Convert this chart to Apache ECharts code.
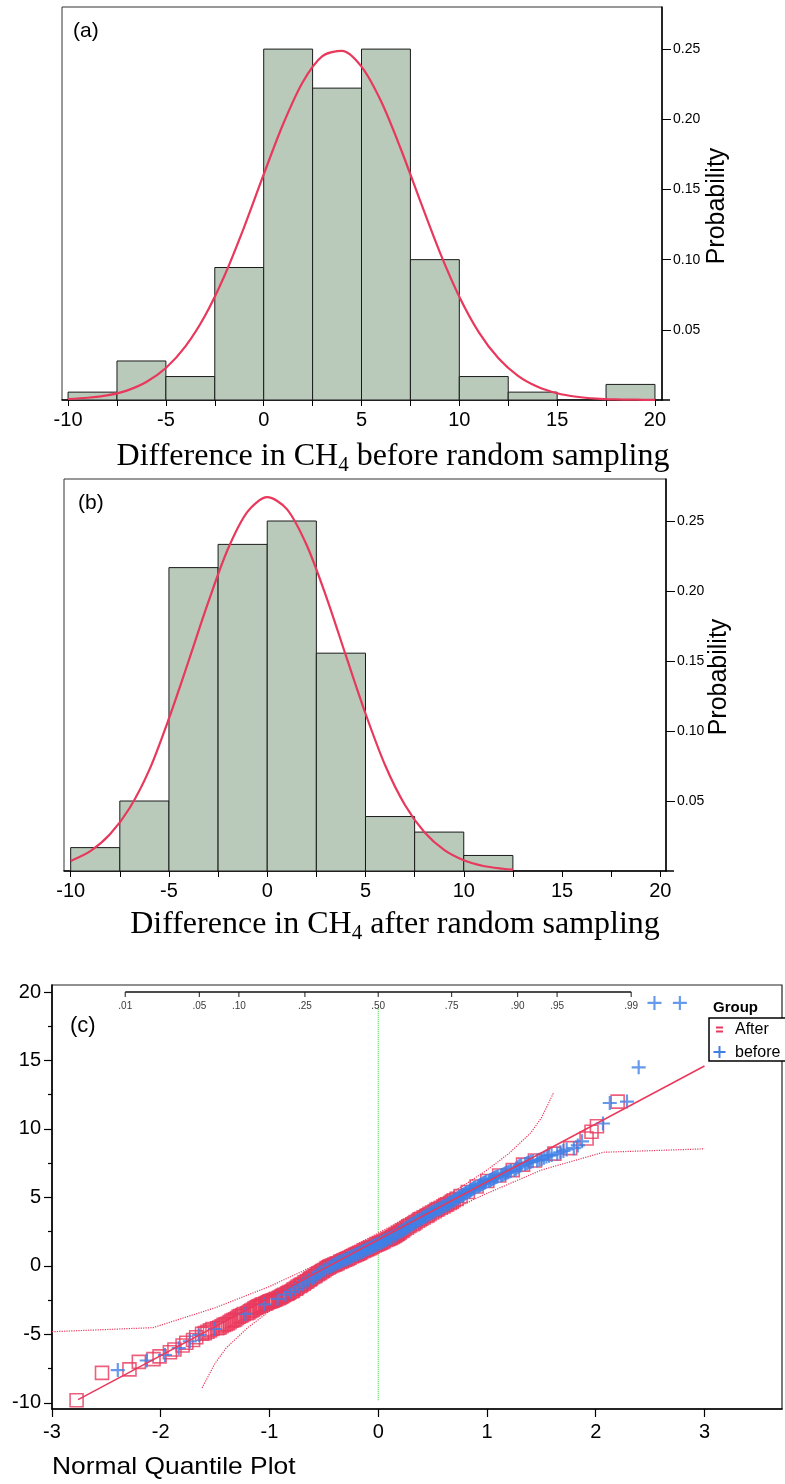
<!DOCTYPE html>
<html><head><meta charset="utf-8">
<script src="https://cdn.jsdelivr.net/npm/echarts@6/dist/echarts.min.js"></script>
<style>html,body{margin:0;padding:0;background:#fff}#c{width:785px;height:1484px}</style>
</head><body><div id="c"></div>
<script>
// ---------- data ----------
const binEdges = [-10,-7.5,-5,-2.5,0,2.5,5,7.5,10,12.5,15,17.5,20];
const probBefore = [0.0056,0.0278,0.0167,0.0944,0.2500,0.2222,0.2500,0.1000,0.0167,0.0056,0,0.0111];
const probAfter  = [0.0167,0.0500,0.2167,0.2333,0.2500,0.1556,0.0389,0.0278,0.0111,0,0,0];

const curveBeforeX = [-10,-9,-8,-7,-6,-5,-4,-3,-2,-1,0,1,2,3,4,5,6,7,8,9,10,11,12,13,14,15,16,17,18,19,20];
const curveBeforeY = [0.0007,0.0016,0.0033,0.0067,0.0128,0.0228,0.0382,0.0600,0.0887,0.1232,0.1607,0.1968,0.2266,0.2450,0.2488,0.2375,0.2128,0.1792,0.1418,0.1054,0.0736,0.0482,0.0297,0.0172,0.0094,0.0048,0.0023,0.0010,0.0004,0.0002,0.0001];
const curveAfterX = [-10,-9,-8,-7,-6,-5,-4,-3,-2,-1,0,1,2,3,4,5,6,7,8,9,10,11,12,12.5];
const curveAfterY = [0.0072,0.0142,0.0262,0.0450,0.0722,0.1090,0.1500,0.1920,0.2300,0.2567,0.2670,0.2585,0.2330,0.1960,0.1540,0.1125,0.0755,0.0473,0.0277,0.0151,0.0077,0.0036,0.0016,0.0010];

const xTicksHist = [-10,-7.5,-5,-2.5,0,2.5,5,7.5,10,12.5,15,17.5,20];
const xLabelsHist = [-10,-5,0,5,10,15,20];
const yTicksHist = [0.05,0.10,0.15,0.20,0.25];

// Q-Q plot: observed values per group
const afterValues = [-9.8,-7.8,-7.55,
 -7.0,-6.8,-6.6,-6.3,-6.1,-5.8,-5.6,-5.4,-5.2,
 -4.95,-4.9,-4.8,-4.7,-4.6,-4.55,-4.5,-4.4,-4.3,-4.25,-4.2,-4.1,-4.0,-3.95,-3.9,-3.8,-3.7,-3.65,-3.6,-3.5,-3.45,-3.4,-3.3,-3.25,-3.2,-3.1,-3.05,-3.0,-2.95,-2.9,-2.85,-2.8,-2.75,-2.7,-2.65,-2.6,-2.58,-2.55,-2.52,
 -2.48,-2.45,-2.4,-2.35,-2.3,-2.25,-2.2,-2.15,-2.1,-2.05,-2.0,-1.95,-1.9,-1.85,-1.8,-1.7,-1.65,-1.6,-1.5,-1.45,-1.4,-1.35,-1.3,-1.2,-1.15,-1.1,-1.0,-0.95,-0.9,-0.8,-0.75,-0.7,-0.6,-0.55,-0.5,-0.4,-0.35,-0.3,-0.2,-0.15,-0.1,-0.05,
 0.0,0.05,0.1,0.15,0.2,0.3,0.35,0.4,0.45,0.5,0.55,0.6,0.7,0.75,0.8,0.85,0.9,0.95,1.0,1.1,1.15,1.2,1.25,1.3,1.35,1.4,1.5,1.55,1.6,1.65,1.7,1.75,1.8,1.9,1.95,2.0,2.05,2.1,2.15,2.2,2.25,2.3,2.35,2.4,2.45,
 2.55,2.6,2.7,2.8,2.9,2.95,3.05,3.1,3.2,3.3,3.4,3.45,3.55,3.65,3.7,3.8,3.9,4.0,4.1,4.15,4.25,4.35,4.45,4.5,4.6,4.7,4.8,4.9,
 5.1,5.4,5.8,6.2,6.6,7.0,7.4,
 7.7,8.2,8.6,9.3,9.8,
 10.2,12.0];
const beforeValues = [-7.6,
 -6.9,-6.5,-6.0,-5.5,-5.05,
 -4.6,-3.5,-2.8,
 -2.4,-2.1,-1.9,-1.7,-1.5,-1.35,-1.2,-1.05,-0.9,-0.8,-0.7,-0.55,-0.45,-0.35,-0.25,-0.15,-0.05,
 0.02,0.08,0.12,0.18,0.25,0.28,0.32,0.38,0.42,0.48,0.52,0.58,0.62,0.68,0.72,0.78,0.82,0.88,0.92,0.98,1.02,1.08,1.12,1.18,1.22,1.28,1.32,1.38,1.45,1.48,1.52,1.58,1.62,1.68,1.72,1.78,1.85,1.88,1.92,1.98,2.02,2.08,2.18,2.28,2.42,
 2.52,2.58,2.65,2.72,2.78,2.85,2.9,2.98,3.02,3.08,3.15,3.22,3.28,3.35,3.4,3.48,3.52,3.58,3.62,3.68,3.75,3.82,3.88,3.92,3.98,4.05,4.1,4.15,4.2,4.28,4.32,4.38,4.45,4.52,4.58,4.65,4.72,4.8,4.88,4.95,
 5.02,5.08,5.12,5.18,5.22,5.28,5.32,5.38,5.42,5.48,5.55,5.6,5.65,5.7,5.75,5.8,5.85,5.9,5.95,6.0,6.05,6.1,6.15,6.2,6.25,6.3,6.35,6.4,6.45,6.5,6.55,6.6,6.65,6.7,6.75,6.8,6.85,6.9,6.95,7.0,7.1,7.2,7.3,7.35,7.45,
 7.5,7.55,7.6,7.65,7.7,7.75,7.8,7.9,8.0,8.05,8.1,8.2,8.3,8.4,8.5,8.6,8.8,9.1,
 10.4,11.9,12.0,
 14.5,
 19.2,19.2];

const fitLineX = [-2.76, 3.0];
const fitLineY = [-9.76, 14.6];
const upperBandX = [-3,-2.07,-1.5,-1,-0.5,0,0.5,0.8,1.0,1.2,1.4,1.5,1.61];
const upperBandY = [-4.8,-4.5,-3.05,-1.5,0.35,2.4,4.55,5.95,7.0,8.2,9.7,10.8,12.6];
const lowerBandX = [-1.62,-1.5,-1.4,-1.2,-1.0,-0.8,-0.5,0,0.5,1.0,1.5,2.07,3.0];
const lowerBandY = [-8.9,-7.1,-6.0,-4.5,-3.3,-2.3,-0.8,1.4,3.45,5.3,7.0,8.3,8.55];
const probTicks = [0.01,0.05,0.10,0.25,0.50,0.75,0.90,0.95,0.99];
const probTickLabels = ['.01','.05','.10','.25','.50','.75','.90','.95','.99'];
const qqYMajor = [-10,-5,0,5,10,15,20];
const qqYMinor = [-7.5,-2.5,2.5,7.5,12.5,17.5];
const qqXTicks = [-3,-2,-1,0,1,2,3];
const refLineY = [-9.8, 18.9];

// ---------- helpers ----------
function invNorm(p){
  const a=[-3.969683028665376e+01,2.209460984245205e+02,-2.759285104469687e+02,1.383577518672690e+02,-3.066479806614716e+01,2.506628277459239e+00];
  const b=[-5.447609879822406e+01,1.615858368580409e+02,-1.556989798598866e+02,6.680131188771972e+01,-1.328068155288572e+01];
  const c=[-7.784894002430293e-03,-3.223964580411365e-01,-2.400758277161838e+00,-2.549732539343734e+00,4.374664141464968e+00,2.938163982698783e+00];
  const d=[7.784695709041462e-03,3.224671290700398e-01,2.445134137142996e+00,3.754408661907416e+00];
  const pl=0.02425; let q,r;
  if(p<pl){q=Math.sqrt(-2*Math.log(p));return (((((c[0]*q+c[1])*q+c[2])*q+c[3])*q+c[4])*q+c[5])/((((d[0]*q+d[1])*q+d[2])*q+d[3])*q+1);}
  if(p<=1-pl){q=p-0.5;r=q*q;return (((((a[0]*r+a[1])*r+a[2])*r+a[3])*r+a[4])*r+a[5])*q/(((((b[0]*r+b[1])*r+b[2])*r+b[3])*r+b[4])*r+1);}
  q=Math.sqrt(-2*Math.log(1-p));return -(((((c[0]*q+c[1])*q+c[2])*q+c[3])*q+c[4])*q+c[5])/((((d[0]*q+d[1])*q+d[2])*q+d[3])*q+1);
}
const zip = (xs, ys) => xs.map((x,i)=>[x, ys[i]]);
const histData = probs => probs.map((p,i)=>[binEdges[i], binEdges[i+1], p]).filter(d=>d[2]>0);

const pooled = afterValues.map((v,i)=>({v,g:'a',i})).concat(beforeValues.map((v,i)=>({v,g:'b',i})));
pooled.sort((p,q)=>p.v-q.v || (p.g<q.g?-1:1));
const N = pooled.length;
pooled.forEach((p,k)=>{p.q = invNorm((k+1)/(N+1));});
const afterPts = pooled.filter(p=>p.g==='a').map(p=>[p.q,p.v]);
const beforePts = pooled.filter(p=>p.g==='b').map(p=>[p.q,p.v]);
const probTickPts = probTicks.map((p,i)=>({value:[invNorm(p), 20], label:probTickLabels[i]}));

// ---------- style ----------
const RED = '#e8385c', BLUE = '#3f7fe6', BAR = '#b9cabb';
const SANS = '"Liberation Sans", Arial, sans-serif';
const SERIF = '"Liberation Serif", "Times New Roman", serif';
const PLUS = 'path://M5.5,0H7.5V5.5H13V7.5H7.5V13H5.5V7.5H0V5.5H5.5Z';

const renderBar = (params, api) => {
  const p0 = api.coord([api.value(0), api.value(2)]);
  const p1 = api.coord([api.value(1), 0]);
  return {type:'rect', shape:{x:p0[0], y:p0[1], width:p1[0]-p0[0], height:p1[1]-p0[1]},
    style:{fill:BAR, stroke:'#1a1a1a', lineWidth:1}};
};

function histX(idx, min, max){
  return {gridIndex:idx, type:'value', min:min, max:max,
    axisLine:{show:true, onZero:false, lineStyle:{color:'#000', width:1.5}},
    axisTick:{show:true, customValues:xTicksHist, length:6, lineStyle:{color:'#000', width:1}},
    axisLabel:{customValues:xLabelsHist, fontSize:20, color:'#000', fontFamily:SANS, margin:10},
    splitLine:{show:false}};
}
function histY(idx){
  return {gridIndex:idx, type:'value', position:'right', min:0, max:0.28,
    axisLine:{show:true, onZero:false, lineStyle:{color:'#000', width:1.5}},
    axisTick:{show:true, customValues:yTicksHist, length:9, lineStyle:{color:'#000', width:1}},
    axisLabel:{customValues:yTicksHist, formatter:v=>v.toFixed(2), fontSize:14, color:'#000', fontFamily:SANS, margin:11},
    splitLine:{show:false}};
}
const titleRich = {
  t:{fontSize:32, fontFamily:SERIF, fill:'#000', color:'#000', verticalAlign:'top'},
  s:{fontSize:21, fontFamily:SERIF, fill:'#000', color:'#000', verticalAlign:'top', padding:[14,0,0,0]}
};

const option = {
  animation:false,
  backgroundColor:'#fff',
  grid:[
    {left:62, right:123, top:7, bottom:1084, show:true, borderColor:'#333', borderWidth:1},
    {left:64, right:119, top:479, bottom:613, show:true, borderColor:'#333', borderWidth:1},
    {left:52, right:3, top:985, bottom:75, show:true, borderColor:'#222', borderWidth:1.2}
  ],
  xAxis:[
    histX(0, -10.31, 20.36),
    histX(1, -10.34, 20.29),
    {gridIndex:2, type:'value', min:-3, max:3.713,
      axisLine:{show:true, onZero:false, lineStyle:{color:'#000', width:1.5}},
      axisTick:{show:true, customValues:qqXTicks, length:8, lineStyle:{color:'#000', width:1.2}},
      axisLabel:{customValues:qqXTicks, fontSize:20, color:'#000', fontFamily:SANS, margin:13},
      splitLine:{show:false}}
  ],
  yAxis:[
    histY(0), histY(1),
    {gridIndex:2, type:'value', position:'left', min:-10.44, max:20.51,
      axisLine:{show:true, onZero:false, lineStyle:{color:'#000', width:1.5}},
      axisTick:{show:true, customValues:qqYMajor, length:8, lineStyle:{color:'#000', width:1.2}},
      axisLabel:{customValues:qqYMajor, fontSize:20, color:'#000', fontFamily:SANS, margin:11},
      splitLine:{show:false}},
    {gridIndex:2, type:'value', position:'left', min:-10.44, max:20.51,
      axisLine:{show:false, onZero:false},
      axisTick:{show:true, customValues:qqYMinor, length:4, lineStyle:{color:'#000', width:1.2}},
      axisLabel:{show:false}, splitLine:{show:false}}
  ],
  series:[
    {type:'custom', xAxisIndex:0, yAxisIndex:0, renderItem:renderBar, data:histData(probBefore), z:2},
    {type:'line', xAxisIndex:0, yAxisIndex:0, data:zip(curveBeforeX, curveBeforeY), showSymbol:false, smooth:0.3,
      lineStyle:{color:RED, width:2.2}, z:3},
    {type:'custom', xAxisIndex:1, yAxisIndex:1, renderItem:renderBar, data:histData(probAfter), z:2},
    {type:'line', xAxisIndex:1, yAxisIndex:1, data:zip(curveAfterX, curveAfterY), showSymbol:false, smooth:0.3,
      lineStyle:{color:RED, width:2.2}, z:3},
    // Q-Q plot
    {type:'line', xAxisIndex:2, yAxisIndex:2, data:zip([0,0], refLineY), showSymbol:false,
      lineStyle:{color:'#2ecc2e', width:1, type:'dotted'}, z:2},
    {type:'line', xAxisIndex:2, yAxisIndex:2, data:zip(upperBandX, upperBandY), showSymbol:false,
      lineStyle:{color:RED, width:1.2, type:'dotted'}, z:2},
    {type:'line', xAxisIndex:2, yAxisIndex:2, data:zip(lowerBandX, lowerBandY), showSymbol:false,
      lineStyle:{color:RED, width:1.2, type:'dotted'}, z:2},
    {type:'line', xAxisIndex:2, yAxisIndex:2, data:zip([invNorm(probTicks[0]), invNorm(probTicks[probTicks.length-1])],[20,20]), showSymbol:false,
      lineStyle:{color:'#111', width:1.5}, z:4},
    {type:'scatter', xAxisIndex:2, yAxisIndex:2, data:probTickPts, symbol:'rect', symbolSize:[1.2,5], symbolOffset:[0,2.5],
      itemStyle:{color:'#111'}, z:4,
      label:{show:true, position:'bottom', distance:4, formatter:p=>p.data.label, fontSize:10, color:'#000', fontFamily:SANS}},
    {name:'After', type:'scatter', xAxisIndex:2, yAxisIndex:2, data:afterPts, symbol:'rect', symbolSize:13,
      itemStyle:{color:'rgba(255,255,255,0)', borderColor:RED, borderWidth:1.6}, z:5},
    {name:'before', type:'scatter', xAxisIndex:2, yAxisIndex:2, data:beforePts, symbol:PLUS, symbolSize:14,
      itemStyle:{color:BLUE}, z:6},
    {type:'line', xAxisIndex:2, yAxisIndex:2, data:zip(fitLineX, fitLineY), showSymbol:false,
      lineStyle:{color:RED, width:1.5}, z:7}
  ],
  graphic:[
    {type:'text', x:73, y:31, style:{text:'(a)', font:'21px '+SANS, fill:'#000', align:'left', verticalAlign:'middle'}},
    {type:'text', x:78, y:503, style:{text:'(b)', font:'21px '+SANS, fill:'#000', align:'left', verticalAlign:'middle'}},
    {type:'text', x:70, y:1026, style:{text:'(c)', font:'22px '+SANS, fill:'#000', align:'left', verticalAlign:'middle'}},
    {type:'text', x:717, y:206, rotation:Math.PI/2, style:{text:'Probability', font:'25px '+SANS, fill:'#000', align:'center', verticalAlign:'middle'}},
    {type:'text', x:719, y:677, rotation:Math.PI/2, style:{text:'Probability', font:'25px '+SANS, fill:'#000', align:'center', verticalAlign:'middle'}},
    {type:'text', x:393, y:441, style:{text:'{t|Difference in CH}{s|4}{t| before random sampling}', rich:titleRich, align:'center', verticalAlign:'top'}},
    {type:'text', x:395, y:909, style:{text:'{t|Difference in CH}{s|4}{t| after random sampling}', rich:titleRich, align:'center', verticalAlign:'top'}},
    {type:'text', x:52, y:1467, scaleX:1.1, originX:0, originY:0, style:{text:'Normal Quantile Plot', font:'24px '+SANS, fill:'#000', align:'left', verticalAlign:'middle'}},
    // axis-line stubs past the right axis
    {type:'line', shape:{x1:662, y1:400, x2:670, y2:400}, style:{stroke:'#000', lineWidth:1.5}},
    {type:'line', shape:{x1:666, y1:871, x2:674, y2:871}, style:{stroke:'#000', lineWidth:1.5}},
    // legend
    {type:'text', x:713, y:1008, style:{text:'Group', font:'bold 15px '+SANS, fill:'#000', align:'left', verticalAlign:'middle'}, z:20},
    {type:'rect', shape:{x:709, y:1018, width:80, height:43}, style:{fill:'#fff', stroke:'#000', lineWidth:1.5}, z:20},
    {type:'rect', shape:{x:716, y:1026.5, width:7, height:2}, style:{fill:RED}, z:21},
    {type:'rect', shape:{x:716, y:1030.5, width:7, height:2}, style:{fill:RED}, z:21},
    {type:'text', x:735, y:1030, style:{text:'After', font:'16px '+SANS, fill:'#000', align:'left', verticalAlign:'middle'}, z:21},
    {type:'rect', shape:{x:713.5, y:1051, width:12, height:2}, style:{fill:BLUE}, z:21},
    {type:'rect', shape:{x:718.5, y:1046, width:2, height:12}, style:{fill:BLUE}, z:21},
    {type:'text', x:735, y:1053, style:{text:'before', font:'16px '+SANS, fill:'#000', align:'left', verticalAlign:'middle'}, z:21}
  ]
};
const chart = echarts.init(document.getElementById('c'), null, {renderer:'canvas', width:785, height:1484});
chart.setOption(option);
</script></body></html>
